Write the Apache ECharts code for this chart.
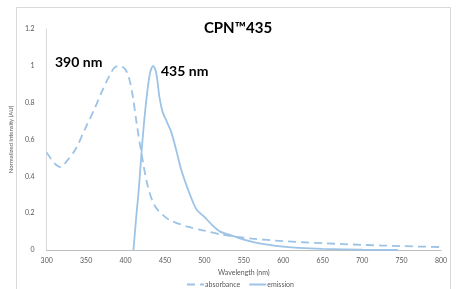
<!DOCTYPE html>
<html>
<head>
<meta charset="utf-8">
<script src="https://cdn.jsdelivr.net/npm/echarts@6/dist/echarts.min.js"></script>
<style>
  html, body { margin: 0; padding: 0; background: #fff; }
  #chart { width: 458px; height: 289px; }
</style>
</head>
<body>
<div id="chart"></div>
<script>
  // 吸收光谱 (虚线)
  const absWavelength = [300, 310, 318, 325, 337, 350, 360, 370, 380, 386, 392, 399, 404, 409, 414, 420, 428, 437, 450, 460, 480, 500, 520, 540, 560, 600, 650, 700, 750, 800];
  const absValues = [0.53, 0.47, 0.45, 0.48, 0.55, 0.67, 0.76, 0.86, 0.95, 0.99, 1.0, 0.985, 0.94, 0.84, 0.69, 0.53, 0.35, 0.24, 0.18, 0.155, 0.125, 0.105, 0.085, 0.072, 0.062, 0.048, 0.037, 0.028, 0.021, 0.016];
  // 发射光谱 (实线)
  const emWavelength = [410, 414, 417, 421, 426, 431, 435, 439, 443, 447, 452, 458, 465, 471, 480, 490, 500, 510, 520, 535, 550, 565, 580, 600, 620, 650, 700, 745];
  const emValues = [0, 0.2, 0.34, 0.57, 0.80, 0.96, 1.0, 0.96, 0.83, 0.75, 0.70, 0.64, 0.53, 0.43, 0.32, 0.22, 0.18, 0.135, 0.10, 0.078, 0.056, 0.04, 0.029, 0.018, 0.011, 0.006, 0.002, 0];
  const xTicks = { min: 300, max: 800, interval: 50 };
  const yTicks = { min: 0, max: 1.2, interval: 0.2 };

  const lineColor = '#9dc3e6';
  const font = 'Lato, "Open Sans", sans-serif';

  const absData = absWavelength.map((w, i) => [w, absValues[i]]);
  const emData = emWavelength.map((w, i) => [w, emValues[i]]);

  const chart = echarts.init(document.getElementById('chart'));
  chart.setOption({
    animation: false,
    title: {
      text: 'CPN™435',
      left: 233,
      top: 16,
      textAlign: 'center',
      textStyle: { fontFamily: font, fontSize: 15, fontWeight: 'bold', color: '#000' }
    },
    grid: { left: 44, right: 17, top: 29, bottom: 39 },
    legend: {
      left: 181,
      top: 276,
      itemWidth: 17,
      itemHeight: 8,
      itemGap: 8,
      itemStyle: { opacity: 0 },
      textStyle: { fontFamily: font, fontSize: 7, color: '#595959', padding: [0, 0, 0, -4] },
      data: ['absorbance', 'emission']
    },
    xAxis: {
      type: 'value',
      min: xTicks.min,
      max: xTicks.max,
      interval: xTicks.interval,
      name: 'Wavelength (nm)',
      nameLocation: 'middle',
      nameGap: 19,
      nameTextStyle: { fontFamily: font, fontSize: 7, color: '#595959' },
      axisLine: { show: true, lineStyle: { color: '#bfbfbf', width: 1 } },
      axisTick: { show: false },
      splitLine: { show: false },
      axisLabel: { fontFamily: font, fontSize: 7, color: '#595959', margin: 7 }
    },
    yAxis: {
      type: 'value',
      min: yTicks.min,
      max: yTicks.max,
      interval: yTicks.interval,
      name: 'Normalized Intensity (AU)',
      nameLocation: 'middle',
      nameGap: 21,
      nameTextStyle: { fontFamily: font, fontSize: 6, color: '#595959' },
      axisLine: { show: true, lineStyle: { color: '#d9d9d9', width: 1 } },
      axisTick: { show: false },
      splitLine: { show: false },
      axisLabel: { fontFamily: font, fontSize: 7, color: '#595959', margin: 12 }
    },
    graphic: [
      {
        type: 'rect',
        shape: { x: 16.5, y: 7.5, width: 434, height: 300 },
        style: { fill: 'none', stroke: '#d9d9d9', lineWidth: 1 },
        silent: true
      },
      {
        type: 'text', left: 55, top: 55,
        style: { text: '390 nm', fontFamily: font, fontSize: 14, fontWeight: 'bold', fill: '#000' }
      },
      {
        type: 'text', left: 161, top: 64,
        style: { text: '435 nm', fontFamily: font, fontSize: 14, fontWeight: 'bold', fill: '#000' }
      }
    ],
    series: [
      {
        name: 'absorbance',
        type: 'line',
        data: absData,
        smooth: 0.3,
        symbol: 'none',
        color: lineColor,
        lineStyle: { color: lineColor, width: 1.8, type: [8, 5] }
      },
      {
        name: 'emission',
        type: 'line',
        data: emData,
        smooth: 0.3,
        symbol: 'none',
        color: lineColor,
        lineStyle: { color: lineColor, width: 1.8 }
      }
    ]
  });
</script>
</body>
</html>
